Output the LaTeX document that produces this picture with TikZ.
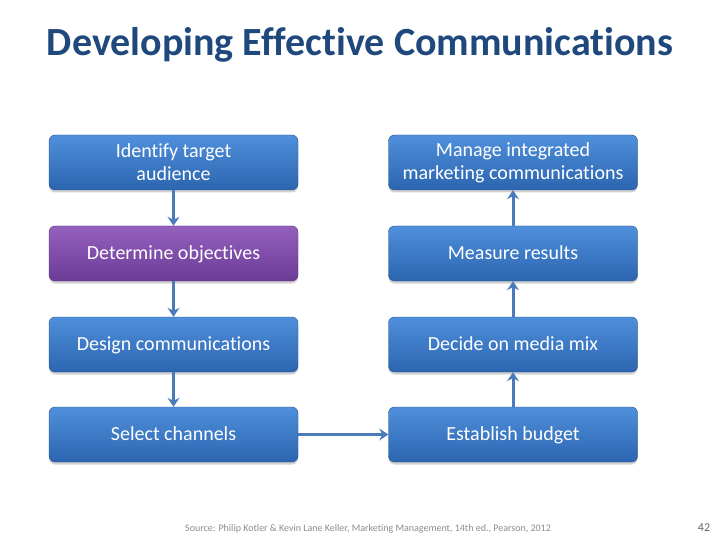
\documentclass[tikz,border=0pt]{standalone}
\usepackage{fontspec}
\setmainfont{Carlito}[RawFeature={-liga}]
\usetikzlibrary{arrows.meta,shadows}
\definecolor{titleblue}{HTML}{1F497D}
\definecolor{boxtop}{HTML}{4F8FDB}
\definecolor{boxbot}{HTML}{2C65B0}
\definecolor{purtop}{HTML}{9460BE}
\definecolor{purbot}{HTML}{6B3C96}
\definecolor{arrowcol}{HTML}{4A7CBC}
\begin{document}
\begin{tikzpicture}[x=1pt,y=-1pt,
  stepbox/.style={rounded corners=6pt, minimum width=249pt, minimum height=55pt,
    top color=boxtop, bottom color=boxbot, draw=boxbot!80!black, line width=0.4pt,
    text=white, font=\fontsize{20}{23}\selectfont, align=center, inner sep=2pt,
    drop shadow={shadow xshift=0pt, shadow yshift=-2.5pt, opacity=0.35}},
  oneline/.style={text height=16.9pt, text depth=4pt},
  purbox/.style={stepbox, top color=purtop, bottom color=purbot, draw=purbot!80!black},
  flow/.style={draw=arrowcol, line width=3pt, -{Stealth[length=9pt,width=12pt,inset=3pt]}}]
\useasboundingbox (0,0) rectangle (720,540);
\fill[white] (0,0) rectangle (720,540);
\node[text=titleblue, font=\fontsize{40}{44}\selectfont\bfseries] (title) at (360,45) {Developing Effective Communications};
\node[stepbox] (a1) at (173.5,162.5) {Identify target\\audience};
\node[purbox, oneline] (a2) at (173.5,253.5) {Determine objectives};
\node[stepbox, oneline] (a3) at (173.5,344.5) {Design communications};
\node[stepbox, oneline] (a4) at (173.5,434.5) {Select channels};
\node[stepbox] (b1) at (513,162.5) {Manage integrated\\marketing communications};
\node[stepbox, oneline] (b2) at (513,253.5) {Measure results};
\node[stepbox, oneline] (b3) at (513,344.5) {Decide on media mix};
\node[stepbox, oneline] (b4) at (513,434.5) {Establish budget};
\draw[flow] (a1) -- (a2);
\draw[flow] (a2) -- (a3);
\draw[flow] (a3) -- (a4);
\draw[flow] (a4) -- (b4);
\draw[flow] (b4) -- (b3);
\draw[flow] (b3) -- (b2);
\draw[flow] (b2) -- (b1);
\node[text=black!45, font=\fontsize{10}{12}\selectfont] (src) at (368,529) {Source: Philip Kotler \& Kevin Lane Keller, Marketing Management, 14th ed., Pearson, 2012};
\node[text=black!60, font=\fontsize{12}{14}\selectfont] (pg) at (704,528) {42};
\end{tikzpicture}
\end{document}
